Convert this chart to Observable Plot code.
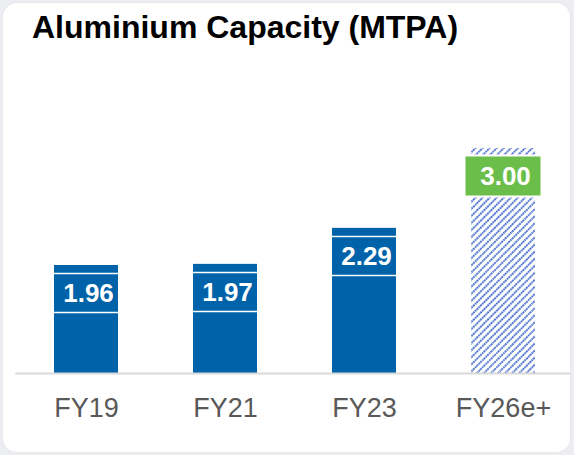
<!DOCTYPE html>
<html><head><meta charset="utf-8">
<script src="https://cdn.jsdelivr.net/npm/d3@7"></script>
<script src="https://cdn.jsdelivr.net/npm/@observablehq/plot@0.6"></script>
<style>
html,body{margin:0;padding:0;background:#eceef1;}
#wrap{position:relative;width:574px;height:455px;overflow:hidden;}
#card{position:absolute;left:3px;top:3px;width:567px;height:449px;background:#fff;border-radius:14px;box-shadow:0 0 3px rgba(0,0,0,0.06);}
#title{position:absolute;left:32px;top:11px;font:bold 32px/32px "Liberation Sans",Arial,sans-serif;color:#000;white-space:nowrap;}
#chart{position:absolute;left:0;top:0;}
</style></head><body>
<div id="wrap"><div id="card"></div><div id="title">Aluminium Capacity (MTPA)</div><div id="chart"></div></div>
<script>
const categories = ["FY19", "FY21", "FY23", "FY26e+"];
const values = [1.96, 1.97, 2.29, 3.00];
const estimated = [false, false, false, true];

const data = categories.map((c, i) => ({cat: c, value: values[i], est: estimated[i], label: values[i].toFixed(2)}));
const actual = data.filter(d => !d.est);
const est = data.filter(d => d.est);
const blue = "#0062a8", green = "#6cbe4a", grid = "#d9d9d9";

const plot = Plot.plot({
  width: 574, height: 455,
  marginTop: 0, marginLeft: 15.25, marginRight: 0.75, marginBottom: 82,
  style: {background: "transparent", fontFamily: "Liberation Sans, Arial, sans-serif", overflow: "visible"},
  x: {domain: categories, paddingInner: 0.541, paddingOuter: 0.2705, align: 0.5, label: null},
  y: {domain: [1, 3], range: [373, 148], axis: null},
  marks: [
    Plot.barY(actual, {x: "cat", y1: 1, y2: "value", fill: blue}),
    Plot.barY(est, {x: "cat", y1: 1, y2: "value", fill: "url(#hatch)"}),
    Plot.ruleY([1], {stroke: grid, strokeWidth: 2, insetRight: 3}),
    Plot.tickY(actual, {x: "cat", y: "value", dy: 27.5, stroke: "#fff", strokeWidth: 40.5}),
    Plot.tickY(actual, {x: "cat", y: "value", dy: 27.5, stroke: blue, strokeWidth: 37.5}),
    Plot.tickY(est, {x: "cat", y: "value", dy: 27.5, stroke: "#fff", strokeWidth: 43, insetLeft: -7, insetRight: -7}),
    Plot.tickY(est, {x: "cat", y: "value", dy: 27.5, stroke: green, strokeWidth: 39, insetLeft: -5.5, insetRight: -5.5}),
    Plot.text(data, {x: "cat", y: "value", dy: 28, dx: 2, text: "label", fill: "#fff", fontSize: 26, fontWeight: "bold"}),
    Plot.axisX({tickSize: 0, tickPadding: 24, fontSize: 27, color: "#595959"})
  ]
});

d3.select(plot).insert("defs", ":first-child").html(
  '<pattern id="hatch" patternUnits="userSpaceOnUse" width="5" height="5" patternTransform="rotate(45)">' +
  '<rect width="5" height="5" fill="#fff"/>' +
  '<line x1="1" y1="0" x2="1" y2="5" stroke="#2453c2" stroke-width="1.7" stroke-dasharray="1.7 0.8"/>' +
  '</pattern>'
);
document.getElementById("chart").appendChild(plot);
</script>
</body></html>
